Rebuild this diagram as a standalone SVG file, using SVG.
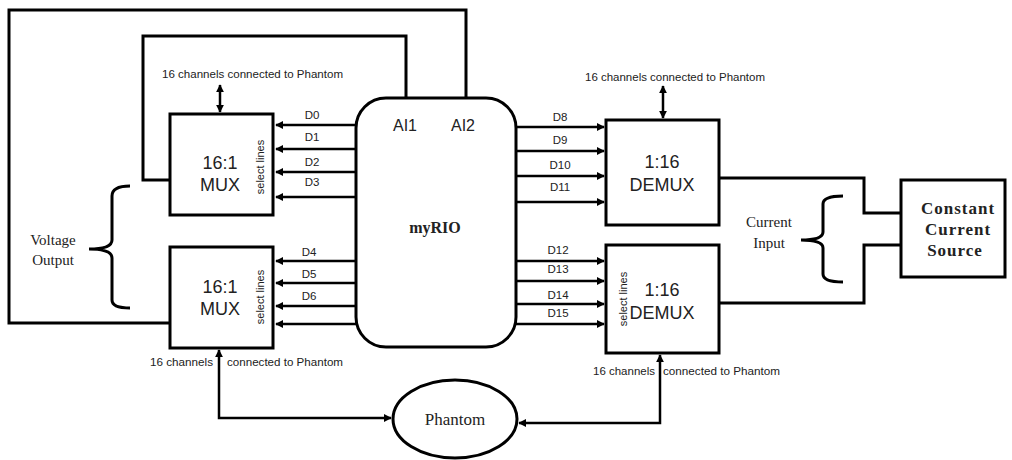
<svg xmlns="http://www.w3.org/2000/svg" width="1012" height="460" viewBox="0 0 1012 460">
<style>
.box{fill:#fff;stroke:#000;stroke-width:3}
.w{fill:none;stroke:#000;stroke-width:3}
.a{fill:none;stroke:#000;stroke-width:2.5}
.s{font-family:"Liberation Sans",Arial,sans-serif;fill:#222}
.sm{font-size:11.5px}
.big{font-size:18px}
.ser{font-family:"Liberation Serif","Times New Roman",serif;fill:#222}
</style>
<defs>
<marker id="ah" viewBox="0 0 10 10" refX="9" refY="5" markerWidth="3.2" markerHeight="3.2" orient="auto-start-reverse"><path d="M0,0 L10,5 L0,10 z" fill="#000"/></marker>
</defs>
<rect width="1012" height="460" fill="#fff"/>
<g id="connectors">
<path class="w" d="M170,323 H9 V10 H466 V98"/>
<path class="w" d="M170,180 H143 V36 H406 V98"/>
<path class="a" d="M356,125 H276" marker-end="url(#ah)"/>
<path class="a" d="M356,149 H276" marker-end="url(#ah)"/>
<path class="a" d="M356,172 H276" marker-end="url(#ah)"/>
<path class="a" d="M356,197 H276" marker-end="url(#ah)"/>
<path class="a" d="M356,261 H276" marker-end="url(#ah)"/>
<path class="a" d="M356,283 H276" marker-end="url(#ah)"/>
<path class="a" d="M356,306 H276" marker-end="url(#ah)"/>
<path class="a" d="M356,324 H276" marker-end="url(#ah)"/>
<path class="a" d="M516,127 H604" marker-end="url(#ah)"/>
<path class="a" d="M516,151 H604" marker-end="url(#ah)"/>
<path class="a" d="M516,176 H604" marker-end="url(#ah)"/>
<path class="a" d="M516,202 H604" marker-end="url(#ah)"/>
<path class="a" d="M516,261 H604" marker-end="url(#ah)"/>
<path class="a" d="M516,281 H604" marker-end="url(#ah)"/>
<path class="a" d="M516,304 H604" marker-end="url(#ah)"/>
<path class="a" d="M516,324 H604" marker-end="url(#ah)"/>
<path class="a" d="M220,85 V112" marker-start="url(#ah)" marker-end="url(#ah)"/>
<path class="a" d="M663,86 V118" marker-start="url(#ah)" marker-end="url(#ah)"/>
<path class="w" d="M719,178 H864 V213 H901"/>
<path class="w" d="M719,303 H864 V245 H901"/>
<path class="a" d="M219,350 V418 H391" marker-start="url(#ah)" marker-end="url(#ah)"/>
<path class="a" d="M660,355 V423 H519" marker-start="url(#ah)" marker-end="url(#ah)"/>
<path class="w" d="M130,186 Q112,186 112,196 V240 Q112,249 89,249 Q112,249 112,258 V300 Q112,308 130,308"/>
<path class="w" d="M843,196 Q823,196 823,204 V232 Q823,240 801,240 Q823,240 823,248 V274 Q823,282 843,282"/>
</g>
<g id="myrio">
<rect class="box" x="356" y="98" width="160" height="249" rx="30"/>
<text x="405" y="131" class="s" font-size="16" text-anchor="middle" font-family="Open Sans,sans-serif">AI1</text>
<text x="463" y="131" class="s" font-size="16" text-anchor="middle" font-family="Open Sans,sans-serif">AI2</text>
<text x="435" y="233" class="ser" font-size="16" font-weight="bold" text-anchor="middle">myRIO</text>
</g>
<g id="mux1">
<rect class="box" x="170" y="114" width="103" height="101"/>
<text x="220" y="169" class="s big" text-anchor="middle">16:1</text>
<text x="220" y="191" class="s big" text-anchor="middle">MUX</text>
<text transform="translate(264,167) rotate(-90)" class="s" font-size="11" text-anchor="middle">select lines</text>
</g>
<g id="mux2">
<rect class="box" x="170" y="247" width="103" height="101"/>
<text x="220" y="293" class="s big" text-anchor="middle">16:1</text>
<text x="220" y="315" class="s big" text-anchor="middle">MUX</text>
<text transform="translate(264,297) rotate(-90)" class="s" font-size="11" text-anchor="middle">select lines</text>
</g>
<g id="demux1">
<rect class="box" x="606" y="120" width="113" height="105"/>
<text x="662" y="168" class="s big" text-anchor="middle">1:16</text>
<text x="662" y="191" class="s big" text-anchor="middle">DEMUX</text>
</g>
<g id="demux2">
<rect class="box" x="606" y="245" width="113" height="108"/>
<text x="662" y="296" class="s big" text-anchor="middle">1:16</text>
<text x="662" y="319" class="s big" text-anchor="middle">DEMUX</text>
<text transform="translate(627,299) rotate(-90)" class="s" font-size="11" text-anchor="middle">select lines</text>
</g>
<g id="ccs">
<rect class="box" x="901" y="180" width="104" height="97"/>
<text x="958" y="214" class="ser" font-size="17" font-weight="bold" text-anchor="middle" letter-spacing="1">Constant</text>
<text x="958" y="235" class="ser" font-size="17" font-weight="bold" text-anchor="middle" letter-spacing="1">Current</text>
<text x="955" y="256" class="ser" font-size="17" font-weight="bold" text-anchor="middle" letter-spacing="1">Source</text>
</g>
<g id="phantom">
<ellipse cx="455" cy="419" rx="62" ry="39" fill="#fff" stroke="#000" stroke-width="3"/>
<text x="455" y="425" class="ser" font-size="17" text-anchor="middle">Phantom</text>
</g>
<g id="labels">
<text x="162" y="78" class="s sm" textLength="181" lengthAdjust="spacingAndGlyphs">16 channels  connected to Phantom</text>
<text x="585" y="81" class="s sm" textLength="180" lengthAdjust="spacingAndGlyphs">16 channels  connected to Phantom</text>
<text x="150" y="366" class="s sm" textLength="63" lengthAdjust="spacingAndGlyphs">16 channels</text>
<text x="227" y="366" class="s sm" textLength="116" lengthAdjust="spacingAndGlyphs">connected to Phantom</text>
<text x="593" y="375" class="s sm" textLength="62" lengthAdjust="spacingAndGlyphs">16 channels</text>
<text x="663" y="375" class="s sm" textLength="117" lengthAdjust="spacingAndGlyphs">connected to Phantom</text>
<text x="53" y="245" class="ser" font-size="15" text-anchor="middle">Voltage</text>
<text x="53" y="265" class="ser" font-size="15" text-anchor="middle">Output</text>
<text x="769" y="227" class="ser" font-size="15" text-anchor="middle">Current</text>
<text x="769" y="248" class="ser" font-size="15" text-anchor="middle">Input</text>
<g class="s sm" text-anchor="middle">
<text x="312" y="119">D0</text>
<text x="312" y="141">D1</text>
<text x="312" y="166">D2</text>
<text x="312" y="186">D3</text>
<text x="309" y="256">D4</text>
<text x="309" y="278">D5</text>
<text x="309" y="300">D6</text>
<text x="560" y="121">D8</text>
<text x="560" y="144">D9</text>
<text x="560" y="169">D10</text>
<text x="560" y="191">D11</text>
<text x="558" y="254">D12</text>
<text x="558" y="273">D13</text>
<text x="558" y="299">D14</text>
<text x="558" y="317">D15</text>
</g>
</g>
</svg>
